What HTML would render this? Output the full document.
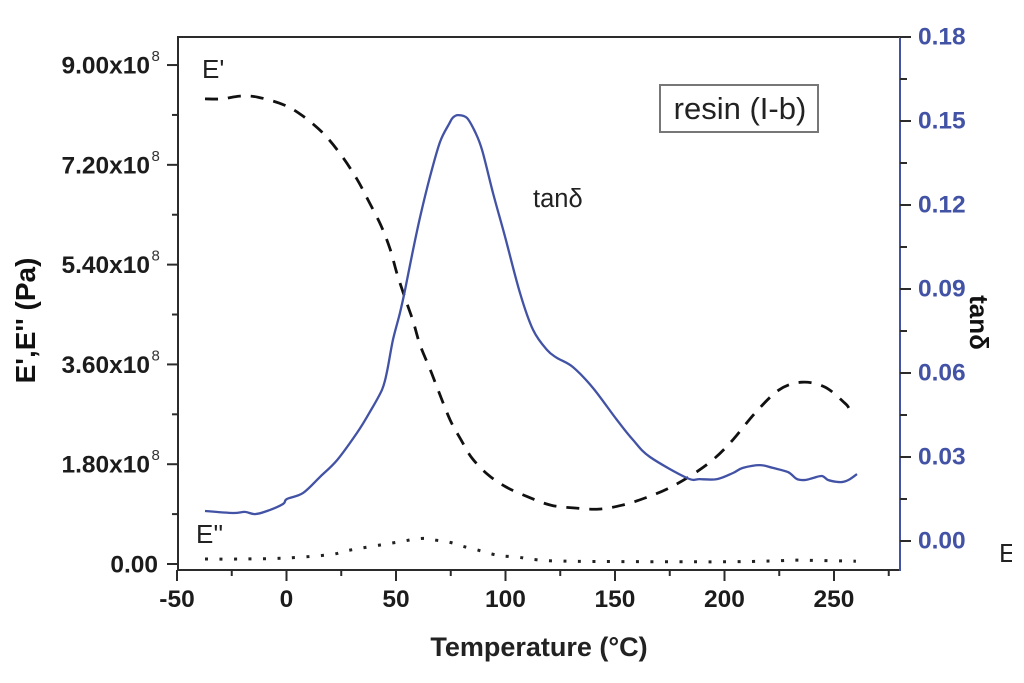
<!DOCTYPE html>
<html>
<head>
<meta charset="utf-8">
<style>
html,body{margin:0;padding:0;background:#fff;width:1024px;height:683px;overflow:hidden}
svg{display:block;font-family:"Liberation Sans",sans-serif}
</style>
</head>
<body>
<svg id="chart" width="1024" height="683" viewBox="0 0 1024 683" xmlns="http://www.w3.org/2000/svg">
<defs><clipPath id="edge-clip"><rect x="0" y="0" width="1012" height="683"/></clipPath></defs>
<rect x="0" y="0" width="1024" height="683" fill="#fff"/>
<g id="axes"></g>
<g id="series"></g>
<text x="539" y="656" text-anchor="middle" font-size="27" font-weight="bold" fill="#222">Temperature (°C)</text>
<text transform="translate(35 320.5) rotate(-90)" text-anchor="middle" font-size="28" font-weight="bold" fill="#111">E',E'' (Pa)</text>
<text transform="translate(970 322.5) rotate(90)" text-anchor="middle" font-size="26" font-weight="bold" fill="#111">tanδ</text>
<text x="202" y="78" font-size="26" fill="#222">E'</text>
<text x="196" y="543" font-size="26" fill="#222">E''</text>
<text x="533" y="207" font-size="25.5" fill="#222">tanδ</text>
<rect x="660" y="85" width="158" height="47" fill="#fff" stroke="#777" stroke-width="2"/>
<text x="740" y="119" text-anchor="middle" font-size="31" fill="#222">resin (I-b)</text>
<text x="999" y="562" font-size="26" fill="#222" clip-path="url(#edge-clip)">E</text>
</svg>
<script>
var xTicks = [-50, 0, 50, 100, 150, 200, 250];
var xMinorTicks = [-25, 25, 75, 125, 175, 225, 275];
var leftTicks = [0, 1.8, 3.6, 5.4, 7.2, 9];
var leftLabels = ['0.00', '1.80x10', '3.60x10', '5.40x10', '7.20x10', '9.00x10'];
var leftMinorTicks = [0.9, 2.7, 4.5, 6.3, 8.1];
var rightTicks = [0, 0.03, 0.06, 0.09, 0.12, 0.15, 0.18];
var rightLabels = ['0.00', '0.03', '0.06', '0.09', '0.12', '0.15', '0.18'];
var rightMinorTicks = [0.015, 0.045, 0.075, 0.105, 0.135, 0.165];

var tanTemps = [-37.2,-24.4,-19,-14.4,-8.9,-1.6,0.2,7.5,15.3,23.1,32.2,38.1,43.6,45.9,48.6,51.8,54.1,57.3,61,65.5,70.1,74.2,76,78.3,82.4,86.1,89.3,94.3,99.8,106.6,112.6,119,123.5,130.8,140,150.9,158.2,166,182.9,188.8,196.6,203.9,208.4,216.2,222.1,229,233.1,236.8,240.4,244.5,247.3,251.4,254.1,257.3,260.5];
var tanValues = [0.0107,0.01,0.0104,0.0096,0.0107,0.0132,0.015,0.0171,0.0229,0.0289,0.0386,0.0461,0.054,0.0605,0.0718,0.0814,0.0896,0.1021,0.1157,0.13,0.1425,0.1489,0.1512,0.1521,0.1511,0.1461,0.1396,0.1243,0.1086,0.0886,0.0754,0.0682,0.0654,0.0621,0.0546,0.0432,0.0361,0.03,0.0225,0.0221,0.0221,0.0243,0.0261,0.0271,0.0261,0.0246,0.0221,0.0218,0.0225,0.0232,0.0218,0.0211,0.0211,0.0221,0.0239];

var storageTemps = [-37.2,-29.5,-21.2,-13,-1.1,7.5,16.7,24.9,32.2,37.7,43.2,47.3,50.5,54.1,57.8,61,65.5,68.7,74.7,79.7,84.7,92,100.2,110.3,120.8,131.7,142.7,153.2,163.7,174.7,185.6,194.7,203.4,213.9,224.9,235.4,245.9,255,256.8];
var storageValues = [8.39,8.39,8.44,8.42,8.28,8.08,7.77,7.38,6.94,6.53,6.1,5.68,5.23,4.8,4.38,3.95,3.52,3.19,2.6,2.24,1.91,1.61,1.39,1.21,1.06,1.01,0.99,1.06,1.19,1.37,1.62,1.88,2.22,2.72,3.14,3.28,3.19,2.9,2.81];

var lossTemps = [-37.2,-20,0,20,29,48.6,61.4,68.3,74.7,80.6,87.4,93.8,98.9,105.3,111.2,118,124.4,143,200,225,232,260];
var lossValues = [0.09,0.09,0.108,0.17,0.25,0.38,0.46,0.43,0.39,0.32,0.25,0.18,0.144,0.126,0.09,0.063,0.054,0.045,0.04,0.06,0.07,0.05];

function xScale(t) { return 286.5 + t * 2.19; }
function leftScale(v) { return 564 - v * 55.44; }
function rightScale(v) { return 541 - v * 2800; }

var NS = 'http://www.w3.org/2000/svg';
var axes = document.getElementById('axes');
var seriesGroup = document.getElementById('series');

function line(parent, x1, y1, x2, y2, color, width) {
  var el = document.createElementNS(NS, 'line');
  el.setAttribute('x1', x1);
  el.setAttribute('y1', y1);
  el.setAttribute('x2', x2);
  el.setAttribute('y2', y2);
  el.setAttribute('stroke', color);
  el.setAttribute('stroke-width', width);
  parent.appendChild(el);
  return el;
}
function label(parent, x, y, str, size, color, anchor) {
  var el = document.createElementNS(NS, 'text');
  el.setAttribute('x', x);
  el.setAttribute('y', y);
  el.setAttribute('font-size', size);
  el.setAttribute('font-weight', 'bold');
  el.setAttribute('fill', color);
  el.setAttribute('text-anchor', anchor);
  el.textContent = str;
  parent.appendChild(el);
  return el;
}
function smoothPath(xs, ys) {
  var d = 'M' + xs[0].toFixed(1) + ' ' + ys[0].toFixed(1);
  for (var i = 0; i < xs.length - 1; i++) {
    var a = Math.max(i - 1, 0), b = Math.min(i + 2, xs.length - 1);
    var c1x = xs[i] + (xs[i + 1] - xs[a]) / 6;
    var c1y = ys[i] + (ys[i + 1] - ys[a]) / 6;
    var c2x = xs[i + 1] - (xs[b] - xs[i]) / 6;
    var c2y = ys[i + 1] - (ys[b] - ys[i]) / 6;
    d += 'C' + c1x.toFixed(1) + ' ' + c1y.toFixed(1) + ' ' + c2x.toFixed(1) + ' ' + c2y.toFixed(1) + ' ' + xs[i + 1].toFixed(1) + ' ' + ys[i + 1].toFixed(1);
  }
  return d;
}

var INK = '#2b2b2b', BLUE = '#4252a5';
var el;

el = line(axes, 177, 37, 901, 37, INK, 2);


el = line(axes, 178, 36, 178, 571, INK, 2);


el = line(axes, 177, 570, 901, 570, INK, 2);


el = line(axes, 900, 37, 900, 571, BLUE, 2);



xTicks.forEach(function (t) {
  var tick = line(axes, xScale(t), 570, xScale(t), 581, INK, 2);
  
  
  var txt = label(axes, xScale(t), 607, String(t), 24.5, '#1c1c1c', 'middle');
  
  
});
xMinorTicks.forEach(function (t) {
  var tick = line(axes, xScale(t), 570, xScale(t), 576, INK, 2);
  
  
});
leftTicks.forEach(function (v, i) {
  var y = leftScale(v);
  var tick = line(axes, 167, y, 178, y, INK, 2);
  
  
  var endX = i === 0 ? 158 : 150;
  var txt = label(axes, endX, y + 8.5, leftLabels[i], 24.5, '#1c1c1c', 'end');
  
  
  if (i > 0) {
    var exp = label(axes, 151.5, y - 4, '8', 15, '#333', 'start');
    exp.setAttribute('font-weight', 'normal');
    
    
  }
});
leftMinorTicks.forEach(function (v) {
  var tick = line(axes, 172, leftScale(v), 178, leftScale(v), INK, 2);
  
  
});
rightTicks.forEach(function (v, i) {
  var y = rightScale(v);
  var tick = line(axes, 900, y, 911, y, INK, 2);
  
  
  var txt = label(axes, 918, y + 7.5, rightLabels[i], 24.5, BLUE, 'start');
  
  
});
rightMinorTicks.forEach(function (v) {
  var tick = line(axes, 900, rightScale(v), 907, rightScale(v), INK, 2);
  
  
});

function drawSeries(temps, values, yScale, color, width, dash) {
  var p = document.createElementNS(NS, 'path');
  p.setAttribute('d', smoothPath(temps.map(xScale), values.map(yScale)));
  p.setAttribute('fill', 'none');
  p.setAttribute('stroke', color);
  p.setAttribute('stroke-width', width);
  if (dash) p.setAttribute('stroke-dasharray', dash);
  seriesGroup.appendChild(p);
  return p;
}
var storageLine = drawSeries(storageTemps, storageValues, leftScale, '#111', 2.8, '13 10');


var lossLine = drawSeries(lossTemps, lossValues, leftScale, '#222', 3, '3 11.5');


var tanLine = drawSeries(tanTemps, tanValues, rightScale, BLUE, 2.3, null);


</script>
</body>
</html>
